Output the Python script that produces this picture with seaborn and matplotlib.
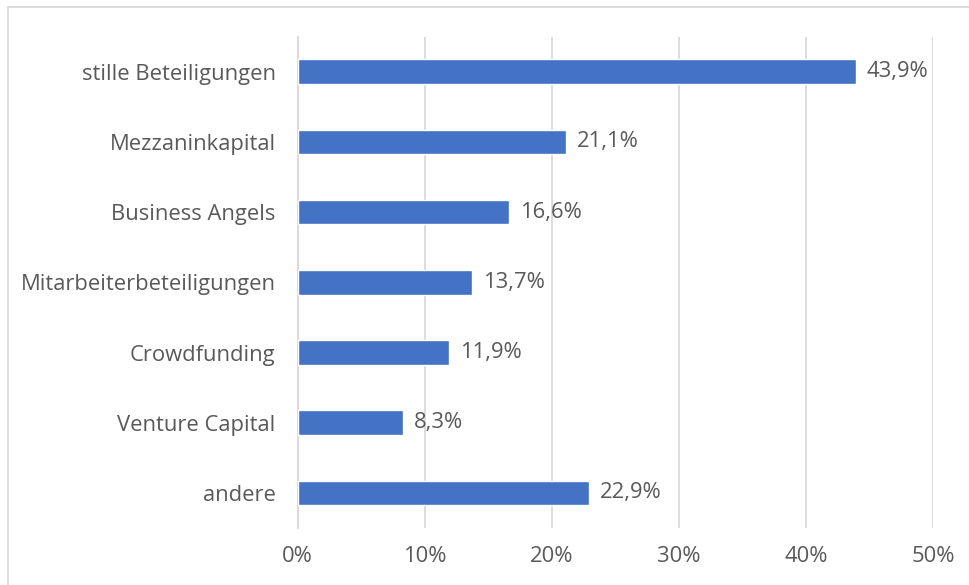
import matplotlib
matplotlib.use("Agg")
import matplotlib.pyplot as plt
import seaborn as sns
import pandas as pd
from matplotlib.patches import Rectangle

sns.set_theme(style="white")
plt.rcParams['font.family'] = ['Open Sans', 'DejaVu Sans']

# data
categories = ['stille Beteiligungen', 'Mezzaninkapital', 'Business Angels',
              'Mitarbeiterbeteiligungen', 'Crowdfunding', 'Venture Capital', 'andere']
shares = [43.9, 21.1, 16.6, 13.7, 11.9, 8.3, 22.9]
xticks = [0, 10, 20, 30, 40, 50]

df = pd.DataFrame({'Kategorie': categories, 'Anteil': shares})

txt = '#595959'
grid = '#D9D9D9'
fs = 15.8

fig = plt.figure(figsize=(9.7, 5.85), dpi=100)
ax = fig.add_axes([0.307, 0.0974, 0.655, 0.84])

sns.barplot(data=df, x='Anteil', y='Kategorie', color='#4472C4', width=0.35,
            saturation=1, ax=ax, zorder=3)

ax.set_xlim(0, 50)
ax.set_ylim(6.5, -0.5)
ax.set_xticks(xticks)
ax.set_xticklabels([f'{t}%' for t in xticks])
ax.xaxis.grid(True, color=grid, linewidth=1.3, zorder=0)
ax.set_xlabel('')
ax.set_ylabel('')
for s in ['top', 'right', 'bottom']:
    ax.spines[s].set_visible(False)
ax.spines['left'].set_color(grid)
ax.spines['left'].set_linewidth(1.3)
ax.tick_params(axis='x', length=0, labelsize=fs, colors=txt, pad=13)
ax.tick_params(axis='y', length=0, labelsize=fs, colors=txt, pad=16)

for i, v in enumerate(shares):
    ax.text(v + 0.85, i, f'{v:.1f}%'.replace('.', ','), va='center', ha='left',
            fontsize=fs, color=txt)

# chart area frame
fig.patches.append(Rectangle((8 / 970, -0.1), 1.2, 1 - 7 / 585 + 0.1,
                             transform=fig.transFigure, fill=False,
                             edgecolor=grid, linewidth=1.3))

fig.savefig('out.png', dpi=100)
